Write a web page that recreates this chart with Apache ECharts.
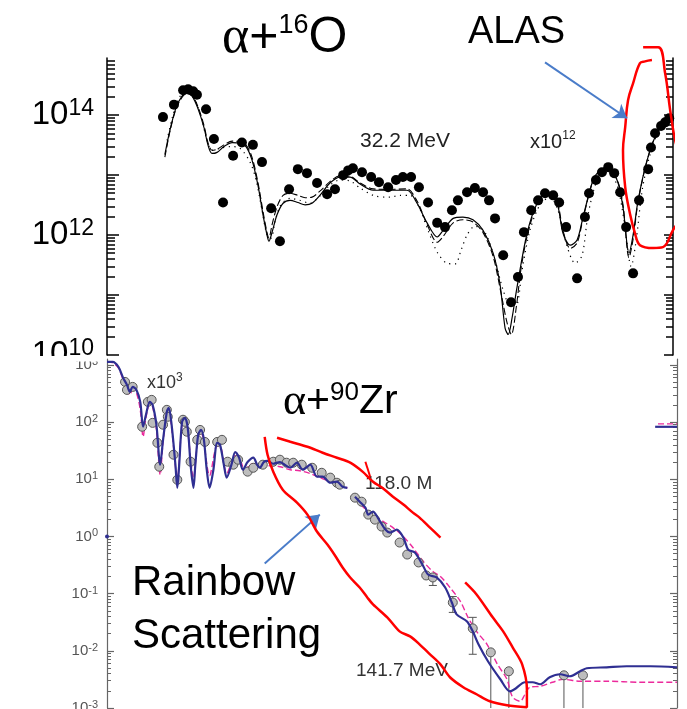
<!DOCTYPE html>
<html>
<head>
<meta charset="utf-8">
<script src="https://cdn.jsdelivr.net/npm/echarts@6/dist/echarts.min.js"></script>
<style>
  html, body { margin: 0; padding: 0; background: #fff; }
  #chart { width: 687px; height: 709px; }
</style>
</head>
<body>
<div id="chart"></div>
<script>
// ---------- α + 16O, 32.2 MeV (cross section ×10^12), angle in degrees ----------
const o16Measured = [
  [17.8, 9.3e13], [21.3, 1.5e14], [24.2, 2.6e14], [25.8, 2.7e14], [27.4, 2.5e14], [28.6, 2.2e14],
  [31.5, 1.26e14], [34.0, 4.0e13], [36.9, 3.5e12], [40.1, 2.1e13], [42.9, 3.5e13], [46.4, 3.2e13],
  [49.3, 1.65e13], [52.2, 2.8e12], [55.0, 7.9e11], [57.9, 5.8e12], [60.7, 1.26e13], [63.6, 1.08e13],
  [66.8, 7.4e12], [70.0, 4.8e12], [72.5, 5.8e12], [75.1, 1.0e13], [76.7, 1.2e13], [78.2, 1.3e13],
  [81.1, 1.12e13], [84.0, 9.3e12], [86.5, 7.6e12], [89.4, 6.3e12], [91.9, 8.3e12], [94.1, 9.3e12],
  [96.7, 9.3e12], [99.2, 6.3e12], [102.1, 3.5e12], [105.0, 1.6e12], [107.5, 1.36e12], [109.7, 2.6e12],
  [111.6, 3.8e12], [114.5, 5.2e12], [117.0, 6.1e12], [119.6, 5.2e12], [121.5, 3.8e12], [123.4, 1.9e12],
  [126.0, 4.6e11], [128.5, 7.6e10], [130.7, 2.0e11], [132.6, 1.12e12], [134.9, 2.6e12], [137.1, 3.8e12],
  [139.3, 5.0e12], [141.9, 4.6e12], [143.8, 3.5e12], [146.0, 1.36e12], [149.5, 1.9e11], [152.0, 2.0e12],
  [153.3, 5.0e12], [155.5, 8.3e12], [157.4, 1.12e13], [159.4, 1.36e13], [161.3, 1.08e13], [163.2, 5.2e12],
  [165.1, 1.36e12], [167.3, 2.3e11], [169.2, 3.8e12], [172.1, 1.26e13], [173.0, 2.9e13], [174.3, 5.0e13],
  [176.2, 6.6e13], [177.5, 7.6e13], [178.8, 8.9e13]
];
const o16Solid = [
  [18.4, 2.2e13], [20.0, 5.6e13], [21.9, 1.3e14], [23.9, 2.1e14], [25.4, 2.3e14], [27.0, 2.1e14],
  [28.9, 1.3e14], [30.9, 6.1e13], [32.1, 3.2e13], [33.4, 2.3e13], [35.0, 2.4e13], [37.2, 3.0e13],
  [39.8, 3.5e13], [42.3, 3.4e13], [44.2, 3.0e13], [46.1, 1.8e13], [48.0, 6.8e12], [49.6, 2.2e12],
  [50.9, 1.0e12], [51.5, 7.9e11], [52.5, 1.12e12], [54.1, 2.2e12], [56.0, 3.4e12], [58.2, 3.8e12],
  [60.7, 3.5e12], [63.0, 3.2e12], [65.2, 3.4e12], [67.7, 4.6e12], [70.9, 7.4e12], [74.1, 9.3e12],
  [77.3, 9.3e12], [80.5, 7.1e12], [84.6, 5.6e12], [90.0, 5.6e12], [95.4, 5.6e12], [98.6, 3.4e12],
  [101.8, 1.6e12], [105.0, 9.3e11], [106.9, 1.2e12], [110.1, 1.9e12], [113.2, 2.0e12], [116.4, 1.8e12],
  [119.6, 1.2e12], [122.8, 5.0e11], [125.0, 1.5e11], [126.6, 2.8e10], [127.6, 2.2e10], [128.8, 4.1e10],
  [130.4, 1.36e11], [133.6, 1.08e12], [136.8, 3.4e12], [139.9, 5.0e12], [143.1, 3.4e12], [145.0, 1.08e12],
  [147.3, 6.8e11], [149.5, 8.3e11], [151.4, 2.0e12], [154.6, 8.3e12], [156.8, 1.2e13], [159.0, 1.3e13],
  [162.2, 8.3e12], [164.1, 2.9e12], [166.0, 5.0e11], [167.3, 1.0e12], [168.9, 3.8e12], [171.8, 1.8e13],
  [174.9, 5.0e13], [179.1, 8.9e13]
];
const o16Dashed = [
  [18.4, 2.0e13], [20.0, 5.3e13], [21.9, 1.25e14], [23.9, 2.0e14], [25.4, 2.3e14], [27.0, 2.15e14],
  [28.9, 1.4e14], [30.9, 6.6e13], [32.1, 3.5e13], [33.4, 2.6e13], [35.0, 2.7e13], [37.2, 3.2e13],
  [39.8, 3.7e13], [42.3, 3.6e13], [44.2, 3.2e13], [46.1, 2.0e13], [48.0, 7.6e12], [49.6, 2.5e12],
  [50.9, 1.1e12], [51.5, 9.0e11], [52.5, 1.5e12], [54.1, 3.0e12], [56.0, 4.6e12], [58.2, 5.0e12],
  [60.7, 4.6e12], [63.0, 4.2e12], [65.2, 4.3e12], [67.7, 5.4e12], [70.9, 7.8e12], [74.1, 9.8e12],
  [77.3, 9.6e12], [80.5, 7.4e12], [84.6, 5.9e12], [90.0, 5.8e12], [95.4, 5.9e12], [98.6, 3.7e12],
  [101.8, 1.5e12], [105.0, 7.6e11], [106.9, 9.5e11], [110.1, 1.6e12], [113.2, 1.8e12], [116.4, 1.65e12],
  [119.6, 1.1e12], [122.8, 4.4e11], [125.0, 1.3e11], [127.2, 3.5e10], [128.6, 2.2e10], [130.2, 6.5e10],
  [131.6, 2.6e11], [133.6, 9.5e11], [136.8, 3.3e12], [139.9, 5.0e12], [143.1, 3.6e12], [145.0, 1.2e12],
  [147.3, 6.0e11], [149.5, 7.4e11], [151.4, 1.9e12], [154.6, 8.3e12], [156.8, 1.2e13], [159.0, 1.3e13],
  [162.2, 8.5e12], [164.1, 3.2e12], [166.0, 4.2e11], [167.3, 8.5e11], [168.9, 3.6e12], [171.8, 1.8e13],
  [174.9, 5.0e13], [179.1, 8.9e13]
];
const o16Dotted = [
  [19.1, 3.8e13], [20.7, 8.9e13], [22.6, 1.78e14], [24.5, 2.4e14], [26.4, 2.3e14], [28.3, 1.65e14],
  [30.2, 8.3e13], [31.8, 3.8e13], [33.4, 2.6e13], [35.9, 2.8e13], [39.1, 3.0e13], [42.3, 2.8e13],
  [45.5, 1.65e13], [47.4, 8.3e12], [49.3, 2.6e12], [50.9, 1.0e12], [52.2, 8.9e11], [53.4, 1.65e12],
  [55.3, 3.2e12], [58.2, 4.1e12], [61.4, 3.8e12], [64.6, 3.4e12], [67.7, 4.5e12], [70.9, 6.8e12],
  [74.1, 8.3e12], [77.3, 8.0e12], [80.5, 6.1e12], [85.2, 4.5e12], [90.0, 4.3e12], [93.2, 4.6e12],
  [96.4, 4.6e12], [98.9, 3.2e12], [102.1, 1.2e12], [105.0, 5.2e11], [108.1, 3.4e11], [110.7, 3.3e11],
  [112.6, 5.6e11], [114.5, 1.0e12], [117.0, 1.41e12], [120.2, 1.12e12], [123.4, 3.8e11], [126.0, 1.2e11],
  [128.2, 6.8e10], [130.1, 6.8e10], [132.0, 2.6e11], [134.5, 1.2e12], [137.7, 3.2e12], [140.9, 4.3e12],
  [143.4, 2.6e12], [145.7, 8.3e11], [148.9, 3.4e11], [151.1, 4.6e11], [153.0, 2.2e12], [155.9, 8.3e12],
  [159.0, 1.2e13], [162.2, 6.8e12], [164.4, 1.8e12], [166.7, 3.0e11], [168.3, 8.3e11], [170.2, 5.6e12],
  [172.7, 2.2e13], [175.9, 6.1e13], [179.1, 8.9e13]
];
const o16Min = 1e10, o16Max = 9e14;
const o16Decades = [1e10, 1e11, 1e12, 1e13, 1e14];
const o16Labels = [1e10, 1e12, 1e14];

// ALAS marker around the backward-angle rise, and its pointer
const alasOutline = [
  [173.3, 8.3e14], [171.1, 7.9e14], [169.5, 7.4e14], [167.3, 3.4e14], [165.7, 1.78e14], [164.8, 6.3e13],
  [164.1, 2.6e13], [164.8, 6.3e12], [166.3, 2.3e12], [167.9, 1.08e12], [169.5, 6.8e11], [173.7, 6.1e11],
  [176.8, 6.3e11], [180.0, 1.21e12], [183.2, 2.3e12], [184.5, 5.0e12], [183.2, 1.36e13], [180.7, 3.8e13],
  [179.1, 1.21e14], [177.5, 5.0e14], [175.3, 1.36e15], [170.5, 1.36e15]
];
const alasArrow = [[139.3, 7.6e14], [165.4, 8.9e13]];

// ---------- α + 90Zr (upper set ×10^3, then 118.0 MeV), angle in degrees ----------
const zrUpperMeasured = [
  [1.9, 505], [2.1, 366], [2.7, 413], [3.7, 83], [4.3, 226], [4.7, 245], [4.8, 97], [5.3, 43.5],
  [5.5, 16.6], [5.9, 90], [6.3, 164], [6.4, 124], [7.0, 26.9], [7.4, 9.8], [8.0, 110], [8.2, 101],
  [8.4, 68], [8.8, 20.3], [9.5, 49], [9.8, 73], [10.3, 45], [11.6, 45], [12.1, 49], [12.7, 20.3],
  [13.3, 18], [13.8, 22], [14.8, 13.6], [15.4, 15.9], [16.4, 18], [17.5, 20.3], [18.2, 22], [18.9, 19.5],
  [19.6, 19.5], [20.5, 18], [21.6, 15.9], [22.6, 13], [23.5, 10.7], [24.2, 8.7], [24.5, 8.05]
];
const zrUpperBlue = [
  [0, 1130], [0.6, 1130], [1.2, 923], [1.7, 593], [2.1, 448], [2.4, 338], [2.7, 413], [3.1, 366],
  [3.5, 226], [3.8, 83], [4.1, 134], [4.5, 226], [4.8, 200], [5.2, 90], [5.6, 18], [5.9, 49],
  [6.3, 151], [6.5, 178], [6.8, 90], [7.2, 18], [7.4, 7.1], [7.6, 18], [7.9, 101], [8.2, 119],
  [8.5, 79], [8.8, 18], [9.1, 7.1], [9.3, 18], [9.6, 60], [9.9, 73], [10.2, 49], [10.5, 14.7],
  [10.8, 7.1], [11.2, 14.7], [11.6, 43.5], [11.9, 40], [12.3, 18], [12.6, 10.7], [13.1, 18], [13.5, 30],
  [13.9, 24], [14.3, 14.7], [14.8, 20], [15.4, 24], [15.8, 18], [16.1, 15.9], [16.5, 20], [16.9, 21],
  [17.5, 18.7], [18.2, 20], [18.7, 18], [19.3, 15.9], [20.0, 19.5], [20.6, 14.7], [21.4, 18], [22.1, 11.1],
  [22.7, 11.1], [23.5, 8.7], [24.2, 9.1], [24.8, 7.4], [25.3, 7.1]
];
const zrUpperMagenta = [
  [0, 1130], [0.6, 1090], [1.2, 886], [1.7, 547], [2.1, 380], [2.4, 299], [2.7, 366], [3.1, 324],
  [3.5, 164], [3.8, 55.5], [4.1, 119], [4.5, 208], [4.8, 185], [5.2, 73], [5.6, 12], [5.9, 45],
  [6.3, 139], [6.5, 164], [6.8, 79], [7.4, 10.7], [7.9, 93], [8.2, 110], [8.5, 68], [9.1, 10.7],
  [9.6, 58], [9.9, 68], [10.2, 42], [10.8, 11.6], [11.6, 38.7], [12.0, 35.7], [12.6, 12.6], [13.5, 25.8],
  [14.0, 22], [14.5, 14.7], [15.3, 18.7], [16.1, 17.3], [17.2, 17.3], [18.2, 16.6], [19.3, 14.7], [20.3, 14.1],
  [21.4, 12.6], [22.4, 10.7], [23.5, 9.1], [24.5, 8.05], [25.3, 7.1]
];
const zrLowerMeasured = [
  [26.1, 4.77], [26.8, 4.06], [27.5, 2.41], [28.2, 1.97], [28.9, 1.49], [29.5, 1.17], [30.8, 0.783],
  [31.6, 0.483], [32.8, 0.351], [33.6, 0.208], [34.3, 0.192], [36.4, 0.070], [38.5, 0.0247],
  [40.4, 0.0094], [42.3, 0.00439], [48.1, 0.00373], [50.1, 0.00373]
];
const zrErrorBars = [
  [34.3, 0.139, 0.216], [36.4, 0.047, 0.089], [38.5, 0.0087, 0.0385],
  [40.4, 0.001, 0.0094], [42.3, 0.001, 0.00439], [48.1, 0.001, 0.00373], [50.1, 0.001, 0.00373]
];
const zrLowerBlue = [
  [26.1, 4.97], [26.6, 4.06], [27.2, 3.19], [27.5, 2.41], [28.0, 2.72], [28.5, 2.14], [29.3, 1.32],
  [29.8, 1.17], [30.5, 1.32], [31.2, 0.957], [31.7, 0.59], [32.4, 0.524], [33.2, 0.324], [33.8, 0.216],
  [34.7, 0.192], [35.6, 0.128], [36.3, 0.070], [36.8, 0.0434], [37.9, 0.0327], [38.5, 0.0219],
  [39.1, 0.0130], [40.1, 0.00656], [41.4, 0.00318], [42.4, 0.00196], [42.9, 0.00213], [44.0, 0.00282],
  [44.8, 0.00282], [45.6, 0.0026], [46.6, 0.00345], [47.7, 0.00389], [48.7, 0.00359], [49.8, 0.00439],
  [50.5, 0.00495], [52.6, 0.00515], [54.7, 0.00537], [57.2, 0.00537], [60.0, 0.00515]
];
const zrLowerMagenta = [
  [26.1, 4.77], [26.9, 3.33], [28.0, 2.41], [29.1, 1.82], [30.1, 1.43], [31.2, 0.995], [32.2, 0.64],
  [33.3, 0.365], [34.3, 0.244], [35.1, 0.2], [36.1, 0.128], [37.2, 0.0731], [38.0, 0.0385], [38.9, 0.0219],
  [40.0, 0.013], [41.1, 0.0058], [42.1, 0.00318], [42.7, 0.00154], [43.5, 0.00131], [44.0, 0.00174],
  [44.5, 0.00231], [45.6, 0.0024], [46.9, 0.00282], [48.0, 0.00318], [49.8, 0.00294], [52.6, 0.00294],
  [56.1, 0.00282], [60.0, 0.00282]
];
// fragments of neighbouring curves at the panel edges
const zrEdgeBlue = [[57.7, 82.8], [60.0, 82.8]];
const zrEdgeMagenta = [[58.0, 93.3], [60.0, 93.3]];
const zrEdgePoint = [[0, 1.0]];

const zrMin = 1e-3, zrMax = 1.27e3;
const zrDecades = [1e-3, 1e-2, 1e-1, 1, 1e1, 1e2, 1e3];

// rainbow-region outlines and pointer
const rainbowOutlineA = [
  [16.6, 55.4], [16.9, 26.9], [17.5, 13.6], [18.5, 6.58], [20.0, 3.91], [21.1, 2.41], [22.1, 1.22],
  [23.2, 0.723], [24.0, 0.465], [24.8, 0.287], [25.6, 0.192], [26.6, 0.128], [27.4, 0.0859],
  [28.0, 0.0648], [29.5, 0.0385], [30.8, 0.0219], [31.9, 0.0179], [32.9, 0.0130], [34.0, 0.00869],
  [35.1, 0.00581], [36.1, 0.00345], [37.5, 0.00231], [38.9, 0.00174], [40.3, 0.00131], [42.1, 0.00112],
  [44.2, 0.00103], [44.2, 0.00213], [43.7, 0.00581], [42.7, 0.0115], [41.7, 0.0219], [40.6, 0.0385],
  [38.9, 0.0968], [37.7, 0.157]
];
const rainbowOutlineB = [
  [17.9, 53.2], [19.3, 45.3], [21.1, 37.1], [22.7, 29.1], [24.2, 23.8], [25.6, 19.5], [26.9, 13.6],
  [28.0, 9.08], [29.1, 6.85], [30.1, 4.97], [31.2, 3.61], [32.2, 2.61], [32.9, 2.14], [34.0, 1.43],
  [35.1, 0.957]
];
const rainbowTick = [[27.2, 20.3], [27.7, 11.1]];
const rainbowArrow = [[16.6, 0.336], [22.4, 2.41]];

// ---------- helpers ----------
function minorTicks(decades, max) {
  const out = [];
  decades.forEach(d => { for (let k = 2; k <= 9; k++) if (k * d <= max * 1.0001) out.push(k * d); });
  return out;
}
function powerLabel(v) {
  const e = Math.round(Math.log10(v));
  return '{b|10}{s|' + e + '}';
}

const SANS = 'Liberation Sans, Arial, Helvetica, sans-serif';
const SERIF = 'Liberation Serif, Times New Roman, serif';
const RED = '#ff0000';
const ARROW = '#4a7cc9';
const BLUE = '#2f2f92';
const MAGENTA = '#ec2a9c';

function logAxis(grid, min, max, opts) {
  return Object.assign({
    gridIndex: grid, type: 'log', min: min, max: max,
    splitLine: { show: false }, minorSplitLine: { show: false }
  }, opts);
}

const yAxes = [
  // upper panel, left: decades with labels
  logAxis(0, o16Min, o16Max, {
    position: 'left',
    axisLine: { show: true, lineStyle: { color: '#000', width: 1.5 } },
    axisTick: { show: true, inside: true, length: 12, customValues: o16Decades, lineStyle: { color: '#000', width: 1.5 } },
    axisLabel: {
      show: true, customValues: o16Labels, margin: 13, formatter: powerLabel,
      rich: {
        b: { fontSize: 33, fontFamily: SANS, color: '#000', lineHeight: 36 },
        s: { fontSize: 23, fontFamily: SANS, color: '#000', verticalAlign: 'top' }
      }
    }
  }),
  logAxis(0, o16Min, o16Max, {
    position: 'left', axisLine: { show: false }, axisLabel: { show: false },
    axisTick: { show: true, inside: true, length: 8, customValues: minorTicks(o16Decades, o16Max), lineStyle: { color: '#000', width: 1.5 } }
  }),
  logAxis(0, o16Min, o16Max, {
    position: 'right', axisLabel: { show: false },
    axisLine: { show: true, lineStyle: { color: '#000', width: 1.5 } },
    axisTick: { show: true, inside: true, length: 9, customValues: o16Decades, lineStyle: { color: '#000', width: 1.5 } }
  }),
  logAxis(0, o16Min, o16Max, {
    position: 'right', axisLine: { show: false }, axisLabel: { show: false },
    axisTick: { show: true, inside: true, length: 7, customValues: minorTicks(o16Decades, o16Max), lineStyle: { color: '#000', width: 1.5 } }
  }),
  // lower panel
  logAxis(1, zrMin, zrMax, {
    position: 'left',
    axisLine: { show: true, lineStyle: { color: '#666', width: 1.2 } },
    axisTick: { show: true, inside: true, length: 7, customValues: zrDecades, lineStyle: { color: '#666', width: 1.2 } },
    axisLabel: {
      show: true, customValues: zrDecades, margin: 9, formatter: powerLabel,
      rich: {
        b: { fontSize: 15, fontFamily: SANS, color: '#555', lineHeight: 17 },
        s: { fontSize: 11, fontFamily: SANS, color: '#555', verticalAlign: 'top' }
      }
    }
  }),
  logAxis(1, zrMin, zrMax, {
    position: 'left', axisLine: { show: false }, axisLabel: { show: false },
    axisTick: { show: true, inside: true, length: 4, customValues: minorTicks(zrDecades, zrMax), lineStyle: { color: '#666', width: 1 } }
  }),
  logAxis(1, zrMin, zrMax, {
    position: 'right', axisLabel: { show: false },
    axisLine: { show: true, lineStyle: { color: '#666', width: 1.2 } },
    axisTick: { show: true, inside: true, length: 7, customValues: zrDecades, lineStyle: { color: '#666', width: 1.2 } }
  }),
  logAxis(1, zrMin, zrMax, {
    position: 'right', axisLine: { show: false }, axisLabel: { show: false },
    axisTick: { show: true, inside: true, length: 4, customValues: minorTicks(zrDecades, zrMax), lineStyle: { color: '#666', width: 1 } }
  })
];

function curve(name, data, grid, style, extra) {
  return Object.assign({
    name: name, type: 'line', data: data,
    xAxisIndex: grid, yAxisIndex: grid === 0 ? 0 : 4,
    symbol: 'none', smooth: 0.3, z: 2,
    lineStyle: style, silent: true
  }, extra || {});
}
function arrowLine(pair) {
  return {
    silent: true, symbol: ['none', 'arrow'], symbolSize: 13,
    label: { show: false },
    lineStyle: { color: ARROW, width: 2, type: 'solid' },
    data: [[{ coord: pair[0] }, { coord: pair[1] }]]
  };
}

const series = [
  // upper panel
  curve('dotted', o16Dotted, 0, { color: '#000', width: 1.2, type: [1.2, 4.5] }),
  curve('dashed', o16Dashed, 0, { color: '#000', width: 1.1, type: [7, 3] }),
  curve('solid', o16Solid, 0, { color: '#000', width: 1.2 }),
  {
    name: 'α+16O data', type: 'scatter', data: o16Measured, xAxisIndex: 0, yAxisIndex: 0,
    symbol: 'circle', symbolSize: 10, itemStyle: { color: '#000', opacity: 1 }, z: 3, silent: true
  },
  curve('ALAS', alasOutline, 0, { color: RED, width: 2.5 }, { clip: false, z: 4, smooth: 0.4, markLine: arrowLine(alasArrow) }),

  // lower panel
  {
    name: 'errors', type: 'custom', data: zrErrorBars, xAxisIndex: 1, yAxisIndex: 4, z: 2, silent: true,
    renderItem: function (params, api) {
      const x = api.value(0), lo = api.value(1), hi = api.value(2);
      const top = api.coord([x, hi]), bot = api.coord([x, lo]);
      const st = { stroke: '#555', lineWidth: 1 };
      const children = [{ type: 'line', shape: { x1: top[0], y1: top[1], x2: bot[0], y2: bot[1] }, style: st }];
      if (lo > zrMin) {
        children.push({ type: 'line', shape: { x1: top[0] - 4, y1: top[1], x2: top[0] + 4, y2: top[1] }, style: st });
        children.push({ type: 'line', shape: { x1: bot[0] - 4, y1: bot[1], x2: bot[0] + 4, y2: bot[1] }, style: st });
      }
      return { type: 'group', children: children };
    }
  },
  curve('magenta upper', zrUpperMagenta, 1, { color: MAGENTA, width: 1.4, type: [6, 3] }),
  curve('magenta lower', zrLowerMagenta, 1, { color: MAGENTA, width: 1.4, type: [6, 3] }),
  {
    name: 'upper data', type: 'scatter', data: zrUpperMeasured, xAxisIndex: 1, yAxisIndex: 4,
    symbol: 'circle', symbolSize: 9, z: 3, silent: true,
    itemStyle: { color: '#bdbdbd', borderColor: '#555', borderWidth: 1, opacity: 1 }
  },
  {
    name: 'lower data', type: 'scatter', data: zrLowerMeasured, xAxisIndex: 1, yAxisIndex: 4,
    symbol: 'circle', symbolSize: 9, z: 3, silent: true,
    itemStyle: { color: '#bdbdbd', borderColor: '#555', borderWidth: 1, opacity: 1 }
  },
  curve('blue upper', zrUpperBlue, 1, { color: BLUE, width: 2.2 }, { z: 4 }),
  curve('blue lower', zrLowerBlue, 1, { color: BLUE, width: 2.2 }, { z: 4 }),
  curve('edge blue', zrEdgeBlue, 1, { color: BLUE, width: 2.2 }, { smooth: false }),
  curve('edge magenta', zrEdgeMagenta, 1, { color: MAGENTA, width: 1.4, type: [6, 3] }, { smooth: false }),
  {
    name: 'edge point', type: 'scatter', data: zrEdgePoint, xAxisIndex: 1, yAxisIndex: 4,
    symbolSize: 4, itemStyle: { color: BLUE, opacity: 1 }, silent: true, clip: false
  },
  curve('rainbow A', rainbowOutlineA, 1, { color: RED, width: 2.5 }, { z: 5, clip: false, markLine: arrowLine(rainbowArrow) }),
  curve('rainbow B', rainbowOutlineB, 1, { color: RED, width: 2.5 }, { z: 5 }),
  curve('rainbow tick', rainbowTick, 1, { color: RED, width: 2 }, { z: 5, smooth: false })
];

// text annotations
function richText(x, y, text, rich, z) {
  return { type: 'text', x: x, y: y, z: z || 1, silent: true, style: { text: text, verticalAlign: 'middle', rich: rich } };
}
const graphic = [
  richText(222, 38, '{a|α}{b|+}{s|16}{b|O}', {
    a: { fontFamily: SERIF, fontSize: 52, fill: '#000', lineHeight: 52 },
    b: { fontFamily: SANS, fontSize: 50, fill: '#000', lineHeight: 52 },
    s: { fontFamily: SANS, fontSize: 27, fill: '#000', verticalAlign: 'top', lineHeight: 34 }
  }),
  richText(468, 33, '{b|ALAS}', { b: { fontFamily: SANS, fontSize: 38, fill: '#000' } }),
  richText(360, 141, '{b|32.2 MeV}', { b: { fontFamily: SANS, fontSize: 21, fill: '#222' } }),
  richText(530, 142, '{b|x10}{s|12}', {
    b: { fontFamily: SANS, fontSize: 20, fill: '#222', lineHeight: 24 },
    s: { fontFamily: SANS, fontSize: 12, fill: '#222', verticalAlign: 'top', lineHeight: 12 }
  }),
  richText(283, 402, '{a|α}{b|+}{s|90}{b|Zr}', {
    a: { fontFamily: SERIF, fontSize: 44, fill: '#000', lineHeight: 44 },
    b: { fontFamily: SANS, fontSize: 41, fill: '#000', lineHeight: 44 },
    s: { fontFamily: SANS, fontSize: 26, fill: '#000', verticalAlign: 'top', lineHeight: 30 }
  }),
  richText(147, 383, '{b|x10}{s|3}', {
    b: { fontFamily: SANS, fontSize: 18, fill: '#333', lineHeight: 22 },
    s: { fontFamily: SANS, fontSize: 12, fill: '#333', verticalAlign: 'top', lineHeight: 12 }
  }),
  richText(365, 484, '{b|118.0 M}', { b: { fontFamily: SANS, fontSize: 19, fill: '#333' } }),
  richText(356, 671, '{b|141.7 MeV}', { b: { fontFamily: SANS, fontSize: 19, fill: '#333' } }),
  richText(132, 583, '{b|Rainbow}', { b: { fontFamily: SANS, fontSize: 42, fill: '#000' } }),
  richText(132, 636, '{b|Scattering}', { b: { fontFamily: SANS, fontSize: 42, fill: '#000' } }),
  // the lower panel sits over the bottom edge of the upper one
  { type: 'rect', z: 10, silent: true, shape: { x: 0, y: 356, width: 66, height: 24 }, style: { fill: '#fff' } },
  { type: 'rect', z: 10, silent: true, shape: { x: 66, y: 356, width: 38, height: 5.5 }, style: { fill: '#fff' } }
];

const chart = echarts.init(document.getElementById('chart'), null, { renderer: 'canvas' });
chart.setOption({
  animation: false,
  backgroundColor: '#fff',
  textStyle: { fontFamily: SANS },
  grid: [
    { left: 107, top: 58, width: 566, height: 297, outerBoundsMode: 'none', containLabel: false },
    { left: 107, top: 359, width: 570, height: 349, outerBoundsMode: 'none', containLabel: false }
  ],
  xAxis: [
    { gridIndex: 0, type: 'value', min: 0, max: 180, show: false, splitLine: { show: false } },
    { gridIndex: 1, type: 'value', min: 0, max: 60, show: false, splitLine: { show: false } }
  ],
  yAxis: yAxes,
  series: series,
  graphic: graphic
});
</script>
</body>
</html>
